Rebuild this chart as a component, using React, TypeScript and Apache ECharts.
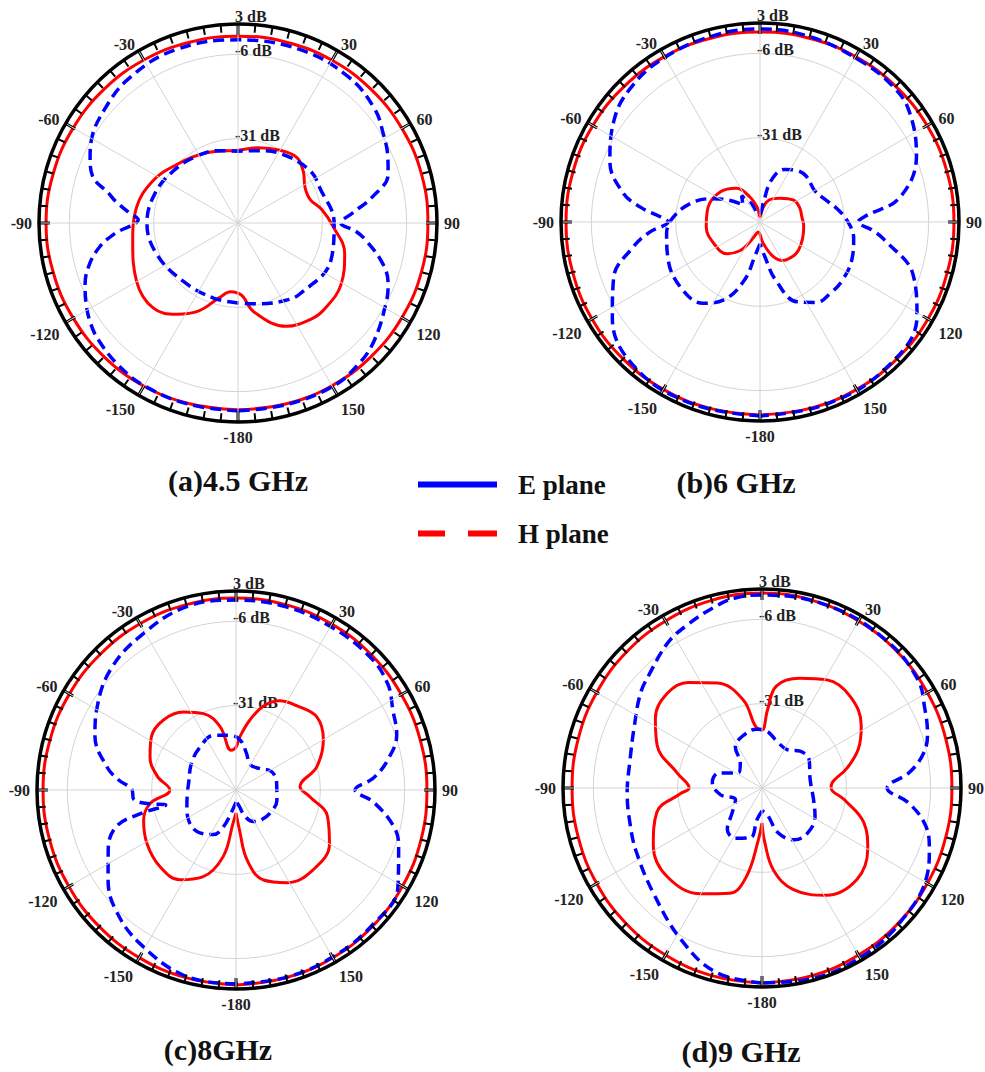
import React, { useEffect, useRef } from 'react';
import * as echarts from 'echarts';

// Each curve: [angle in degrees (0 = top, clockwise), gain in dB]
type Pt = [number, number];

const R_MIN = -56; // dB at the centre
const R_MAX = 3; // dB at the outer ring
const R_STEP = 25; // ring spacing (rings at -31, -6 dB)
const ANGLE_STEP = 30;

// ---------- (a) 4.5 GHz ----------
const A_H_OUTER: Pt[] = [
  [-180, -0.6], [-165, -0.5], [-150, -0.2], [-135, 0.1], [-120, 0.4], [-105, 0.7], [-90, 0.9], [-75, 0.7], [-60, 0.4],
  [-45, 0.1], [-30, -0.2], [-15, -0.5], [0, -0.6], [15, -0.5], [30, -0.3], [45, -0.1], [60, 0.1], [75, 0.3], [90, 0.3],
  [105, 0.3], [120, 0.1], [135, -0.1], [150, -0.3], [165, -0.5], [180, -0.6],
];
const A_H_INNER: Pt[] = [
  [-180, -35.2], [-174, -35.5], [-166, -33.2], [-156, -27.5], [-146, -23.4], [-135, -20.4], [-120, -21.3], [-100, -24.3],
  [-82, -25.5], [-64, -27.8], [-47, -30.8], [-24, -33.2], [0, -34.4], [15, -32.9], [30, -31.1], [42, -29.9], [52, -31.4],
  [62, -33.5], [72, -33.5], [81, -30.8], [92, -27.8], [106, -23.1], [121, -20.4], [135, -19.8], [142, -20.1],
  [155, -22.2], [170, -29.3], [176, -34.1], [180, -35.2],
];
const A_E_OUTER: Pt[] = [
  [-180, -0.3], [-165, -0.3], [-150, -0.3], [-140, -0.9], [-130, -2.0], [-124, -3.2], [-118, -5.0], [-112, -7.1],
  [-106, -10.0], [-100, -14.2], [-95, -19.2], [-88, -26.4], [-85, -24.0], [-80, -19.2], [-77, -16.6], [-72, -10.6],
  [-66, -8.0], [-61, -6.2], [-50, -4.1], [-37, -2.3], [-20, -1.4], [0, -1.7], [20, -1.4], [37, -1.7], [50, -3.2],
  [59, -5.6], [66, -7.4], [72, -9.2], [79, -15.4], [85, -21.9], [90, -25.5], [94, -21.0], [98, -17.5], [106, -11.2],
  [112, -8.0], [118, -6.2], [131, -2.6], [140, -0.9], [150, 0.0], [165, -0.3], [180, -0.3],
];
const A_E_INNER: Pt[] = [
  [-180, -32.3], [-162, -32.6], [-137, -32.3], [-111, -30.2], [-90, -29.0], [-70, -29.9], [-51, -31.4], [-34, -32.6],
  [-15, -33.8], [0, -34.7], [15, -33.8], [33, -31.7], [54, -29.6], [67, -29.6], [90, -27.5], [112, -26.3], [139, -28.1],
  [150, -29.3], [167, -31.4], [180, -32.3],
];

// ---------- (b) 6 GHz ----------
const B_H_OUTER: Pt[] = [
  [-180, 1.2], [-165, 1.2], [-150, 1.3], [-135, 1.4], [-120, 1.5], [-105, 1.5], [-90, 1.5], [-75, 1.4], [-60, 1.2],
  [-45, 0.9], [-30, 0.6], [-15, 0.4], [0, 0.3], [15, 0.4], [30, 0.6], [45, 0.9], [60, 1.2], [75, 1.4], [90, 1.5],
  [105, 1.5], [120, 1.5], [135, 1.4], [150, 1.3], [165, 1.2], [180, 1.2],
];
const B_H_INNER: Pt[] = [
  [-180, -52.4], [-170, -53.0], [-160, -51.8], [-152, -48.9], [-145, -45.6], [-134, -42.4], [-115, -40.9], [-95, -40.0],
  [-74, -40.0], [-53, -41.2], [-35, -43.8], [-22, -48.0], [-10, -51.8], [0, -54.5], [10, -52.4], [18, -49.8],
  [30, -48.0], [40, -46.8], [57, -44.1], [70, -43.5], [83, -43.5], [95, -43.0], [105, -42.7], [120, -42.1],
  [131, -41.8], [140, -42.1], [149, -42.7], [159, -45.0], [171, -49.5], [180, -52.4],
];
const B_E_OUTER: Pt[] = [
  [-180, 1.5], [-160, 1.5], [-140, 0.9], [-123, -3.8], [-111, -9.5], [-101, -17.8], [-95, -23.4], [-90, -28.7],
  [-87, -26.4], [-83, -20.4], [-78, -14.5], [-68, -8.0], [-55, -3.2], [-45, -0.9], [-32, 0.3], [-15, 0.9], [0, 1.2],
  [15, 0.9], [32, 0.3], [45, 0.3], [54, -1.1], [67, -5.6], [80, -13.9], [87, -24.9], [90, -26.9], [94, -22.8],
  [98, -18.9], [109, -8.0], [121, -1.7], [139, 1.2], [160, 1.5], [180, 1.5],
];
const B_E_INNER: Pt[] = [
  [-180, -49.5], [-172, -46.2], [-165, -38.2], [-155, -30.5], [-145, -26.6], [-130, -25.5], [-112, -26.6], [-97, -28.1],
  [-87, -30.2], [-75, -34.7], [-65, -39.7], [-55, -44.7], [-45, -48.9], [-35, -46.5], [-25, -50.1], [-10, -53.6],
  [0, -53.6], [10, -50.1], [15, -43.3], [25, -38.8], [35, -37.3], [45, -36.7], [60, -37.3], [70, -35.8], [80, -32.9],
  [90, -29.9], [100, -27.8], [112, -26.6], [125, -26.1], [135, -26.3], [145, -26.9], [155, -29.9], [165, -38.2],
  [172, -45.6], [180, -49.5],
];

// ---------- (c) 8 GHz ----------
const C_H_OUTER: Pt[] = [
  [-180, 1.8], [-165, 1.6], [-150, 1.4], [-135, 1.3], [-120, 1.2], [-105, 1.2], [-90, 1.2], [-75, 1.1], [-60, 1.0],
  [-45, 0.9], [-30, 0.9], [-15, 0.9], [0, 0.9], [15, 0.9], [30, 0.8], [45, 0.7], [60, 0.6], [75, 0.6], [90, 0.6],
  [105, 0.8], [120, 1.0], [135, 1.2], [150, 1.4], [165, 1.6], [180, 1.8],
];
const C_H_INNER: Pt[] = [
  [-180, -49.2], [-175, -46.2], [-169, -35.8], [-159, -28.4], [-148, -24.6], [-135, -24.0], [-121, -25.2],
  [-108, -27.2], [-99, -30.2], [-90, -36.4], [-80, -32.3], [-69, -28.7], [-58, -26.4], [-46, -26.1], [-34, -28.1],
  [-23, -31.4], [-14, -36.7], [-7, -44.1], [0, -43.3], [4, -40.3], [11, -35.0], [18, -29.9], [26, -26.6], [36, -25.2],
  [48, -23.7], [60, -26.1], [74, -31.1], [87, -37.0], [95, -34.1], [106, -27.8], [120, -24.0], [136, -23.1],
  [151, -24.6], [163, -28.1], [171, -35.0], [175, -44.1], [180, -49.2],
];
const C_E_OUTER: Pt[] = [
  [-180, 1.5], [-165, 1.2], [-148, -2.3], [-135, -5.6], [-125, -9.7], [-115, -14.2], [-107, -18.9], [-104, -26.4],
  [-102, -34.7], [-99, -29.9], [-95, -25.5], [-90, -25.2], [-85, -21.0], [-80, -17.2], [-69, -11.2], [-59, -8.0],
  [-46, -4.4], [-32, -2.3], [-15, 0.3], [0, 0.3], [15, 0.3], [30, 0.0], [45, 0.0], [55, -1.1], [63, -3.8], [71, -5.6],
  [79, -10.3], [85, -15.1], [90, -20.7], [95, -15.1], [103, -8.0], [109, -5.0], [121, 0.0], [135, 0.9], [150, 1.2],
  [165, 1.5], [180, 1.5],
];
const C_E_INNER: Pt[] = [
  [-180, -52.4], [-169, -49.5], [-161, -44.4], [-153, -41.2], [-140, -39.4], [-126, -39.1], [-109, -40.6],
  [-95, -41.5], [-82, -41.8], [-59, -40.6], [-40, -39.4], [-22, -38.5], [-6, -39.7], [5, -41.2], [16, -44.7],
  [29, -47.4], [48, -46.5], [63, -44.1], [81, -43.8], [104, -43.5], [124, -43.8], [140, -44.4], [151, -45.3],
  [161, -47.7], [171, -51.6], [180, -52.4],
];

// ---------- (d) 9 GHz ----------
const D_H_OUTER: Pt[] = [
  [-180, 1.8], [-165, 1.6], [-150, 1.2], [-135, 0.9], [-120, 0.6], [-105, 0.4], [-90, 0.3], [-75, 0.4], [-60, 0.6],
  [-45, 0.9], [-30, 1.2], [-15, 1.6], [0, 1.8], [15, 1.6], [30, 1.2], [45, 0.9], [60, 0.6], [75, 0.4], [90, 0.3],
  [105, 0.4], [120, 0.6], [135, 0.9], [150, 1.2], [165, 1.6], [180, 1.8],
];
const D_H_INNER: Pt[] = [
  [-180, -45.6], [-176, -40.6], [-170, -29.3], [-163, -23.4], [-150, -19.8], [-133, -17.5], [-118, -19.5],
  [-103, -24.0], [-94, -31.7], [-90, -34.4], [-80, -30.5], [-68, -22.5], [-57, -18.3], [-45, -16.3], [-35, -17.8],
  [-23, -22.2], [-12, -29.3], [-6, -37.6], [0, -38.8], [4, -32.9], [8, -25.5], [19, -21.6], [31, -18.6], [44, -18.3],
  [58, -21.3], [68, -25.2], [77, -30.2], [86, -35.2], [90, -35.5], [98, -31.4], [109, -24.0], [120, -19.8],
  [134, -16.9], [149, -18.9], [163, -24.6], [172, -31.4], [177, -39.7], [180, -45.6],
];
const D_E_OUTER: Pt[] = [
  [-180, 1.8], [-166, 0.3], [-152, -5.0], [-134, -11.2], [-117, -14.2], [-106, -15.4], [-92, -16.0], [-78, -16.0],
  [-64, -13.9], [-52, -10.3], [-45, -8.6], [-33, -4.7], [-25, -2.9], [-15, -0.6], [-8, 0.9], [0, 1.2], [20, 1.5],
  [40, 1.2], [55, 0.3], [64, -2.3], [72, -4.4], [78, -7.1], [84, -12.1], [90, -18.9], [96, -12.1], [103, -6.2],
  [110, -3.2], [118, -0.6], [135, 1.2], [150, 2.1], [165, 2.4], [180, 1.8],
];
const D_E_INNER: Pt[] = [
  [-180, -49.2], [-171, -46.5], [-167, -40.9], [-152, -39.1], [-140, -40.0], [-130, -44.4], [-114, -47.4],
  [-99, -43.5], [-84, -41.2], [-71, -42.4], [-57, -47.7], [-41, -46.2], [-33, -41.5], [-19, -39.4], [-5, -38.5],
  [5, -39.1], [18, -41.5], [33, -42.4], [46, -40.3], [59, -39.7], [80, -41.5], [103, -40.3], [118, -38.2],
  [135, -37.0], [148, -37.9], [160, -41.8], [169, -48.0], [180, -49.2],
];

const CAPTIONS = ['(a)4.5 GHz', '(b)6 GHz', '(c)8GHz', '(d)9 GHz'];
const SERIES_NAMES = ['E plane', 'H plane'];

const PANEL_DATA = [
  { e: [A_E_OUTER, A_E_INNER], h: [A_H_OUTER, A_H_INNER] },
  { e: [B_E_OUTER, B_E_INNER], h: [B_H_OUTER, B_H_INNER] },
  { e: [C_E_OUTER, C_E_INNER], h: [C_H_OUTER, C_H_INNER] },
  { e: [D_E_OUTER, D_E_INNER], h: [D_H_OUTER, D_H_INNER] },
];

// layout (pixels)
const LAYOUT = [
  { center: [238, 223], cap: [238, 465] },
  { center: [760, 222], cap: [736, 467] },
  { center: [236, 790], cap: [218, 1034] },
  { center: [762, 788], cap: [741, 1036] },
];
const RADIUS = 199;

const FONT = '"Liberation Serif", "Times New Roman", serif';
const BLUE = '#0000ff';
const RED = '#ff0000';
const GRID = '#d4d4d4';
const LABEL_TEXT = { fontFamily: FONT, fontWeight: 'bold', fontSize: 16, color: '#222' };

const toPolar = (pts: Pt[]) => pts.map(([a, v]) => [v - R_MIN, a < 0 ? a + 360 : a]);

// upper-half labels (30, 60, -60, -30) are centred on their anchor
const angleLabel = (v: number) => {
  if (v === 0 || v === 360) return '';
  const txt = v > 180 ? String(v - 360) : v === 180 ? '-180' : String(v);
  if (v === 30 || v === 60 || v === 300 || v === 330) return `{m|${txt}}`;
  return txt;
};

const radiusLabel = (v: number) => {
  if (v === 0) return '';
  const txt = `${Math.round(v + R_MIN)} dB`;
  return v >= R_MAX - R_MIN ? txt : `{r|${txt}}`;
};

export default function App() {
  const ref = useRef<HTMLDivElement>(null);

  useEffect(() => {
    if (!ref.current) return;
    const chart = echarts.init(ref.current, undefined, { renderer: 'svg' });

    const polar = LAYOUT.map((l) => ({ center: l.center, radius: RADIUS }));

    const angleAxis = LAYOUT.map((_, i) => ({
      polarIndex: i,
      type: 'value',
      min: 0,
      max: 360,
      interval: ANGLE_STEP,
      startAngle: 90,
      clockwise: true,
      z: 5,
      axisLine: { show: true, lineStyle: { color: '#000', width: 3.5 } },
      axisTick: { show: true, inside: true, length: 11, lineStyle: { color: '#000', width: 3 } },
      minorTick: { show: true, splitNumber: 6, length: 8, lineStyle: { color: '#000', width: 2 } },
      axisLabel: {
        show: true,
        margin: 7,
        formatter: angleLabel,
        ...LABEL_TEXT,
        rich: { m: { ...LABEL_TEXT, lineHeight: 1 } },
      },
      splitLine: { show: true, lineStyle: { color: GRID, width: 1 } },
    }));

    const radiusAxis = LAYOUT.map((_, i) => ({
      polarIndex: i,
      type: 'value',
      min: 0,
      max: R_MAX - R_MIN,
      interval: R_STEP,
      axisLine: { show: false },
      axisTick: { show: false },
      axisLabel: {
        show: true,
        showMinLabel: false,
        showMaxLabel: true,
        formatter: radiusLabel,
        ...LABEL_TEXT,
        align: 'left',
        verticalAlign: 'bottom',
        margin: 3,
        rich: { r: { ...LABEL_TEXT, lineHeight: 7 } },
      },
      splitLine: { show: true, lineStyle: { color: GRID, width: 1 } },
    }));

    const series: any[] = [];
    PANEL_DATA.forEach((p, i) => {
      p.h.forEach((pts) => {
        series.push({
          type: 'line',
          name: SERIES_NAMES[1],
          coordinateSystem: 'polar',
          polarIndex: i,
          data: toPolar(pts),
          symbol: 'none',
          smooth: 0.4,
          lineStyle: { color: RED, width: 3, type: 'solid' },
          itemStyle: { color: RED },
          z: 3,
        });
      });
      p.e.forEach((pts) => {
        series.push({
          type: 'line',
          name: SERIES_NAMES[0],
          coordinateSystem: 'polar',
          polarIndex: i,
          data: toPolar(pts),
          symbol: 'none',
          smooth: 0.4,
          lineStyle: { color: BLUE, width: 3.5, type: [11, 6] },
          itemStyle: { color: BLUE },
          z: 4,
        });
      });
    });

    const title = CAPTIONS.map((t, i) => ({
      text: t,
      left: LAYOUT[i].cap[0],
      top: LAYOUT[i].cap[1],
      textAlign: 'center',
      padding: 0,
      textStyle: { fontFamily: FONT, fontWeight: 'bold', fontSize: 30, color: '#111' },
    }));

    chart.setOption({
      animation: false,
      backgroundColor: '#fff',
      title,
      polar,
      angleAxis,
      radiusAxis,
      legend: {
        orient: 'vertical',
        left: 413,
        top: 466,
        itemWidth: 79,
        itemHeight: 6,
        itemGap: 22,
        selectedMode: false,
        data: [
          {
            name: SERIES_NAMES[0],
            icon: 'path://M0,0H79V6H0Z',
            itemStyle: { color: BLUE },
          },
          {
            name: SERIES_NAMES[1],
            icon: 'path://M0,0H27V6H0ZM50,0H79V6H50Z',
            itemStyle: { color: RED },
          },
        ],
        textStyle: {
          fontFamily: FONT,
          fontWeight: 'bold',
          fontSize: 27,
          color: '#111',
          padding: [0, 0, 0, 16],
        },
      },
      series,
    });

    return () => chart.dispose();
  }, []);

  return (
    <div
      ref={ref}
      style={{ position: 'absolute', left: 0, top: 0, width: 985, height: 1072, background: '#fff' }}
    />
  );
}
